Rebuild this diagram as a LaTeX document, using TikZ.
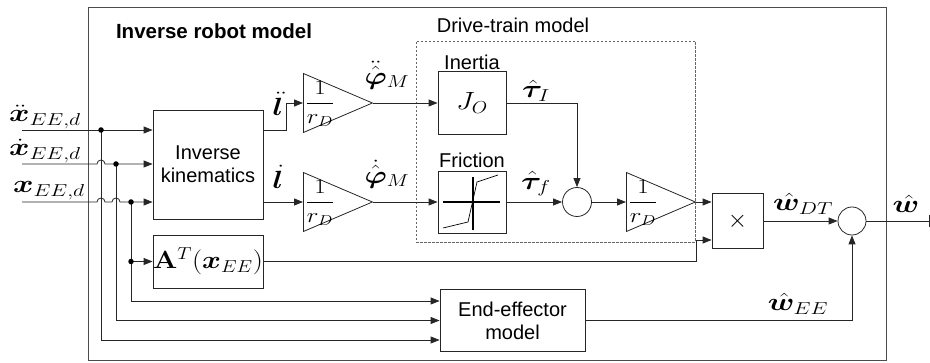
\documentclass[tikz,border=0pt]{standalone}
\usepackage[no-math]{fontspec}
\setmainfont{Liberation Sans}
\usepackage{amsmath,bm,graphicx}
\usetikzlibrary{arrows.meta,shapes.geometric,calc}
\newcommand{\msz}[1]{\fontsize{#1}{#1}\selectfont}
\newcommand{\wid}[2][1.25]{\scalebox{#1}[1]{#2}}
\begin{document}
\begin{tikzpicture}[x=1pt,y=-1pt,line width=0.8pt,draw=black!85,
  >={Triangle[length=9pt,width=7pt]},
  box/.style={draw=black!85,inner sep=0pt,align=center,font=\fontsize{20}{23}\selectfont},
  gain/.style={draw=black!85,isosceles triangle,isosceles triangle stretches,shape border rotate=0,
    minimum width=59pt,minimum height=69pt,inner sep=0pt,anchor=west},
  sumc/.style={circle,draw=black!85,inner sep=0pt,minimum size=29pt},
  txt/.style={inner sep=0pt,font=\fontsize{20}{23}\selectfont},
  lbl/.style={inner sep=0pt,font=\msz{25}},
  dotc/.style={circle,fill=black,inner sep=0pt,minimum size=5.5pt}]
\useasboundingbox (0,0) rectangle (930,363);
% frames
\node[draw=black!70,inner sep=0pt,minimum width=798pt,minimum height=353pt] (outer) at (487,183.5) {};
\node[txt,font=\fontsize{20.5}{23}\selectfont\bfseries] (title) at (214,31) {Inverse robot model};
\node[draw=black!60,dash pattern=on 2.5pt off 1.5pt,line width=0.7pt,inner sep=0pt,minimum width=279pt,minimum height=201pt] (dt) at (555.5,141.5) {};
\node[txt] (dttitle) at (513,25) {Drive-train model};
% blocks
\node[box,minimum width=110pt,minimum height=109pt] (ik) at (208,164.5) {Inverse\\kinematics};
\node[box,minimum width=110pt,minimum height=53pt] (at) at (208,261.5) {\msz{24}\wid[1.15]{$\mathbf{A}^T(\bm{x}_{EE})$}};
\node[box,minimum width=145pt,minimum height=62pt] (ee) at (512.5,320.5) {End-effector\\model};
\node[gain] (g1) at (303,103) {};
\node[gain] (g2) at (303,202) {};
\node[gain] (g3) at (626,202) {};
\node[lbl,font=\msz{20.5}] (g1l) at (320,104) {\wid[1.2]{$\displaystyle\frac{1}{r_D}$}};
\node[lbl,font=\msz{20.5}] (g2l) at (320,203) {\wid[1.2]{$\displaystyle\frac{1}{r_D}$}};
\node[lbl,font=\msz{20.5}] (g3l) at (643,203) {\wid[1.2]{$\displaystyle\frac{1}{r_D}$}};
\node[box,minimum width=68pt,minimum height=63pt] (inr) at (472,103) {\msz{26}\wid[1.15]{$J_O$}};
\node[txt] (inrl) at (472,62) {Inertia};
\node[box,minimum width=68pt,minimum height=62pt] (fr) at (472,202) {};
\node[txt] (frl) at (472,160) {Friction};
\node[sumc] (s1) at (577,202) {};
\node[box,minimum width=51pt,minimum height=55pt] (mul) at (737.5,221) {\msz{32}$\times$};
\node[sumc,minimum size=28pt] (s2) at (852,221) {};
% friction characteristic
\draw[line width=1.7pt,black] ($(fr)+(-29,0)$) -- ($(fr)+(28,0)$);
\draw[line width=1.2pt,black] ($(fr)+(1,-25)$) -- ($(fr)+(1,28)$);
\draw[line width=0.7pt,black] ($(fr)+(-29,26)$) -- ($(fr)+(-4,20)$) -- ($(fr)+(5,-20)$) -- ($(fr)+(26,-27)$);
% inputs
\coordinate (in1) at (22,130);
\coordinate (in2) at (22,164);
\coordinate (in3) at (22,202);
\coordinate (b1) at (101,130);
\coordinate (b2) at (116,164);
\coordinate (b3) at (131,202);
\coordinate (out) at (930,221);
\node[lbl,anchor=south] (lx1) at (45,129) {\wid[1.25]{$\ddot{\bm{x}}_{EE,d}$}};
\node[lbl,anchor=south] (lx2) at (45,163) {\wid[1.25]{$\dot{\bm{x}}_{EE,d}$}};
\node[lbl,anchor=south] (lx3) at (49,200) {\wid[1.25]{$\bm{x}_{EE,d}$}};
\draw[->] (in1) -- (in1 -| ik.west);
\draw[->] (in2) -- ([xshift=-4pt]in2 -| b1) arc (180:0:4pt) -- (in2 -| ik.west);
\draw[->] (in3) -- ([xshift=-4pt]in3 -| b1) arc (180:0:4pt) -- ([xshift=-4pt]in3 -| b2) arc (180:0:4pt) -- (in3 -| ik.west);
\draw[->] (b1) |- ([yshift=-19.5pt]ee.west);
\draw[->] (b2) |- (ee.west);
\draw[->] (b3) |- ([yshift=19.5pt]ee.west);
\draw[->] (b3 |- at.west) -- (at.west);
\node[dotc] (d1) at (b1) {};
\node[dotc] (d2) at (b2) {};
\node[dotc] (d3) at (b3) {};
\node[dotc] (d4) at (b3 |- at.west) {};
% inverse kinematics outputs
\draw[->] (ik.east |- in1) -- ++(23pt,0) |- (g1.west);
\draw[->] (ik.east |- g2.west) -- (g2.west);
\node[lbl,font=\msz{26}] (ldd) at (278,104) {\wid[1.2]{$\ddot{\bm{l}}$}};
\node[lbl,font=\msz{26}] (ld) at (278,177) {\wid[1.2]{$\dot{\bm{l}}$}};
% drive train
\draw[->] (g1.apex) -- (inr.west);
\draw[->] (g2.apex) -- (fr.west);
\node[lbl,font=\msz{26}] (phdd) at (387,75) {\wid[1.2]{$\ddot{\hat{\bm{\varphi}}}_M$}};
\node[lbl,font=\msz{26}] (phd) at (387,174) {\wid[1.2]{$\dot{\hat{\bm{\varphi}}}_M$}};
\draw[->] (inr.east) -| (s1.north);
\draw[->] (fr.east) -- (s1.west);
\node[lbl] (taui) at (536,91) {\wid[1.25]{$\hat{\bm{\tau}}_I$}};
\node[lbl] (tauf) at (536,184) {\wid[1.25]{$\hat{\bm{\tau}}_f$}};
\draw[->] (s1.east) -- (g3.west);
\draw[->] (g3.apex) -- ([yshift=19pt]mul.west);
\draw[->] (at.east) -| ([xshift=-15pt,yshift=-19pt]mul.west) -- ([yshift=-19pt]mul.west);
\draw[->] (mul.east) -- (s2.west);
\draw[->] (ee.east) -| (s2.south);
\draw[-{Bar[width=12pt]}] (s2.east) -- (out);
\node[lbl] (wdt) at (803,204) {\wid[1.25]{$\hat{\bm{w}}_{DT}$}};
\node[lbl] (wee) at (798,304) {\wid[1.25]{$\hat{\bm{w}}_{EE}$}};
\node[lbl] (w) at (906,204) {\wid[1.25]{$\hat{\bm{w}}$}};
\end{tikzpicture}
\end{document}
